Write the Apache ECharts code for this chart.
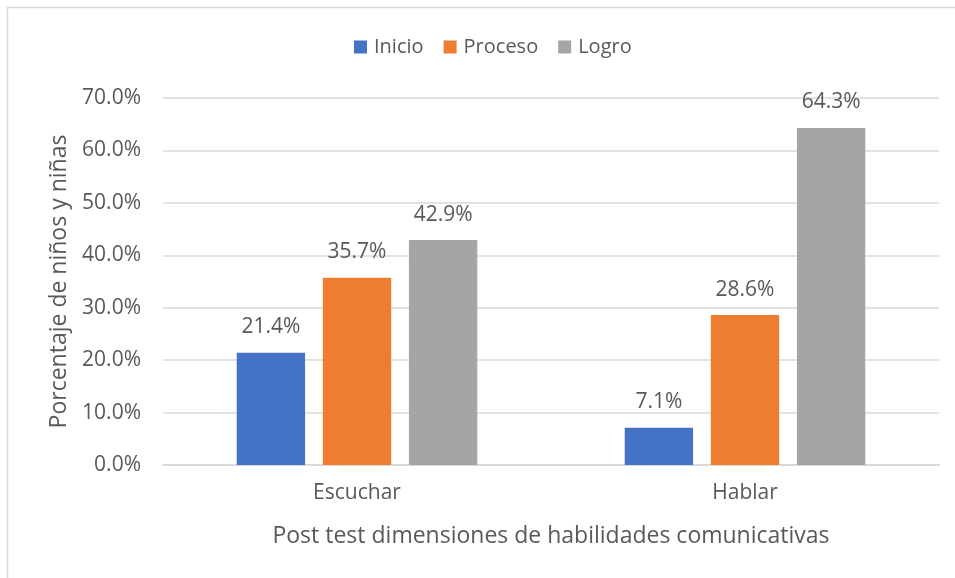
<!DOCTYPE html>
<html>
<head>
<meta charset="utf-8">
<script src="https://cdn.jsdelivr.net/npm/echarts@6/dist/echarts.min.js"></script>
<style>
  html, body { margin: 0; padding: 0; background: #fff; }
  #chart { width: 955px; height: 578px; }
</style>
</head>
<body>
<div id="chart"></div>
<script>
const categories = ['Escuchar', 'Hablar'];
const inicio = [21.4, 7.1];
const proceso = [35.7, 28.6];
const logro = [42.9, 64.3];
const yTicks = [0, 10, 20, 30, 40, 50, 60, 70];

const textColor = '#595959';
const font = 'Open Sans';

const myChart = echarts.init(document.getElementById('chart'));

const barLabel = {
  show: true,
  position: 'top',
  distance: 15,
  color: textColor,
  fontFamily: font,
  fontSize: 21,
  formatter: (p) => `${p.value.toFixed(1)}%`
};

const option = {
  animation: false,
  textStyle: { fontFamily: font },
  color: ['#4472C4', '#ED7D31', '#A5A5A5'],
  graphic: [{
    type: 'rect',
    shape: { x: 7.5, y: 7.5, width: 1000, height: 620 },
    style: { fill: 'none', stroke: '#d9d9d9', lineWidth: 1.5 },
    silent: true
  }],
  legend: {
    top: 32,
    left: 349,
    itemWidth: 13,
    itemHeight: 13,
    itemGap: 20,
    icon: 'rect',
    textStyle: { color: textColor, fontSize: 20, fontFamily: font, padding: [0, 0, 0, 2] },
    data: ['Inicio', 'Proceso', 'Logro']
  },
  grid: { left: 163, right: 16, top: 98, bottom: 113 },
  xAxis: {
    type: 'category',
    data: categories,
    name: 'Post test dimensiones de habilidades comunicativas',
    nameLocation: 'middle',
    nameGap: 60,
    nameTextStyle: { color: textColor, fontSize: 23, fontFamily: font },
    axisLine: { lineStyle: { color: '#d9d9d9', width: 2 } },
    axisTick: { show: false },
    axisLabel: { color: textColor, fontSize: 21, fontFamily: font, margin: 18 }
  },
  yAxis: {
    type: 'value',
    min: yTicks[0],
    max: yTicks[yTicks.length - 1],
    interval: 10,
    name: 'Porcentaje de niños y niñas',
    nameLocation: 'middle',
    nameGap: 90,
    nameTextStyle: { color: textColor, fontSize: 23, fontFamily: font },
    axisLine: { show: false },
    axisTick: { show: false },
    splitLine: { lineStyle: { color: '#d9d9d9', width: 1.5 } },
    axisLabel: {
      color: textColor,
      fontSize: 21,
      fontFamily: font,
      margin: 22,
      formatter: (v) => `${v.toFixed(1)}%`
    }
  },
  series: [
    { name: 'Inicio', type: 'bar', data: inicio, barGap: '26%', barCategoryGap: '38%', label: barLabel },
    { name: 'Proceso', type: 'bar', data: proceso, label: barLabel },
    { name: 'Logro', type: 'bar', data: logro, label: barLabel }
  ]
};

myChart.setOption(option);
</script>
</body>
</html>
